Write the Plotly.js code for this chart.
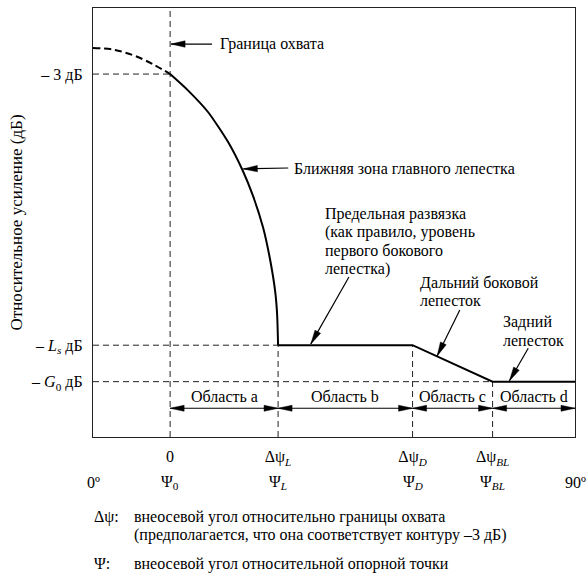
<!DOCTYPE html>
<html>
<head>
<meta charset="utf-8">
<script src="https://cdn.plot.ly/plotly-3.0.1.min.js"></script>
<style>html,body{margin:0;padding:0;background:#fff;}</style>
</head>
<body>
<div id="chart" style="width:588px;height:573px;"></div>
<script>
// ---- data (schematic units: x 0..100 across the 0º..90º frame, y 0..100 bottom..top) ----
const mainLobeX = [0, 4.15, 8.3, 12.45, 16, 19.7, 23.9, 28.0, 31.1, 33.2, 35.3, 36.7, 37.8, 38.2, 38.4];
const mainLobeY = [90.7, 90.3, 89.0, 86.9, 84.6, 80.8, 75.7, 68.8, 62.0, 56.2, 48.8, 41.6, 33.9, 28.6, 21.4];
const edgeIndex = 4; // point where coverage edge (0) is reached
const envelopeX = [38.4, 66.3, 82.9, 100];
const envelopeY = [21.4, 21.4, 12.9, 12.9];

const levelVals = [84.6, 21.4, 12.9];
const levelText = ['– 3 дБ', '– <i>L<sub>s</sub></i> дБ', '– <i>G</i><sub>0</sub> дБ'];
const levelEndX = [16, 38.4, 82.9];

const boundX = [16, 38.4, 66.3, 82.9];
const boundTopY = [100, 21.4, 21.4, 12.9];
const deltaText = ['0', 'Δψ<sub><i>L</i></sub>', 'Δψ<sub><i>D</i></sub>', 'Δψ<sub><i>BL</i></sub>'];
const psiX = [0, 16, 38.4, 66.3, 82.9, 100];
const psiText = ['0º', 'Ψ<sub>0</sub>', 'Ψ<sub><i>L</i></sub>', 'Ψ<sub><i>D</i></sub>', 'Ψ<sub><i>BL</i></sub>', '90º'];

const regionNames = ['Область a', 'Область b', 'Область c', 'Область d'];
const regionStart = [16, 38.4, 66.3, 82.9];
const regionEnd = [38.4, 66.3, 82.9, 100];
const regionArrowY = 6.7;
const regionLabelY = 9.4;

const calloutText = ['Граница охвата', 'Ближняя зона главного лепестка',
  'Предельная развязка<br>(как правило, уровень<br>первого бокового<br>лепестка)',
  'Дальний боковой<br>лепесток', 'Задний<br>лепесток'];
const calloutTextX = [25.9, 41.3, 47.8, 67.5, 84.6];
const calloutTopY = [91.5, 62.6, 52.0, 36.0, 26.9];
const calloutTailX = [24.7, 40.5, 53.1, 76.1, 90.3];
const calloutTailY = [91.6, 62.7, 37.3, 29.6, 20.7];
const calloutTipX = [16.2, 31.2, 45.2, 71.4, 86.4];
const calloutTipY = [91.6, 62.5, 21.7, 18.9, 13.1];

const noteLabels = ['Δψ:', '', 'Ψ:'];
const noteTexts = ['внеосевой угол относительно границы охвата',
  '(предполагается, что она соответствует контуру –3 дБ)',
  'внеосевой угол относительной опорной точки'];
const noteY = [-18.6, -22.8, -29.6];
const psiRowY = -10.7;

const yTitle = 'Относительное усиление (дБ)';

// ---- layout geometry ----
const W = 588, H = 573;
const M = {l: 93, r: 13, t: 8, b: 136};
const kx = (W - M.l - M.r) / 100, ky = (H - M.t - M.b) / 100;
const FONT = '"Liberation Serif", "Times New Roman", serif';
const FS = 16;
const LINE_STEP = 18.4 / ky;

const traces = [];
const guideDash = '6px,4px';
levelVals.forEach((v, i) => traces.push({x: [0, levelEndX[i]], y: [v, v], mode: 'lines',
  line: {color: '#222', width: 1, dash: guideDash}, hoverinfo: 'skip'}));
boundX.forEach((v, i) => traces.push({x: [v, v], y: [0, boundTopY[i]], mode: 'lines',
  line: {color: '#222', width: 1, dash: guideDash}, hoverinfo: 'skip'}));
traces.push({x: mainLobeX.slice(0, edgeIndex + 1), y: mainLobeY.slice(0, edgeIndex + 1), mode: 'lines',
  line: {color: '#000', width: 2, dash: '7px,4px', shape: 'spline'}, hoverinfo: 'skip'});
traces.push({x: mainLobeX.slice(edgeIndex), y: mainLobeY.slice(edgeIndex), mode: 'lines',
  line: {color: '#000', width: 2, shape: 'spline', smoothing: 0.6}, hoverinfo: 'skip'});
traces.push({x: envelopeX, y: envelopeY, mode: 'lines', line: {color: '#000', width: 2}, hoverinfo: 'skip'});

// ---- arrows (shafts + filled heads) ----
const shapes = [];
function head(tx, ty, fx, fy, len, half) {
  let dx = (tx - fx) * kx, dy = (ty - fy) * ky;
  const n = Math.hypot(dx, dy); dx /= n; dy /= n;
  const bx = tx * kx - dx * len, by = ty * ky - dy * len;
  const p1 = [(bx - dy * half) / kx, (by + dx * half) / ky];
  const p2 = [(bx + dy * half) / kx, (by - dx * half) / ky];
  shapes.push({type: 'path', xref: 'x', yref: 'y',
    path: `M${tx},${ty} L${p1[0]},${p1[1]} L${p2[0]},${p2[1]} Z`,
    fillcolor: '#000', line: {color: '#000', width: 0.5}});
}
function shaft(x0, y0, x1, y1) {
  shapes.push({type: 'line', xref: 'x', yref: 'y', x0, y0, x1, y1, line: {color: '#000', width: 1.2}});
}
calloutTipX.forEach((tx, i) => {
  shaft(calloutTailX[i], calloutTailY[i], tx, calloutTipY[i]);
  head(tx, calloutTipY[i], calloutTailX[i], calloutTailY[i], 14, 3.2);
});
regionStart.forEach((s, i) => {
  shaft(s, regionArrowY, regionEnd[i], regionArrowY);
  head(s, regionArrowY, regionEnd[i], regionArrowY, 14, 3);
  head(regionEnd[i], regionArrowY, s, regionArrowY, 14, 3);
});

// ---- annotations ----
const ann = [];
const tf = {family: FONT, size: FS, color: '#000'};
calloutText.forEach((t, i) => t.split('<br>').forEach((line, j) => ann.push({
  x: calloutTextX[i], y: calloutTopY[i] - j * LINE_STEP, xref: 'x', yref: 'y',
  text: line, showarrow: false, xanchor: 'left', yanchor: 'middle', align: 'left', font: tf})));
regionNames.forEach((t, i) => ann.push({x: (regionStart[i] + regionEnd[i]) / 2, y: regionLabelY,
  xref: 'x', yref: 'y', text: t, showarrow: false, xanchor: 'center', yanchor: 'middle', font: tf}));
// outside the frame: paper coordinates (frame spans 0..1 = axis range 0..100)
psiX.forEach((x, i) => ann.push({x: x / 100, y: psiRowY / 100, xref: 'paper', yref: 'paper', text: psiText[i],
  showarrow: false, xanchor: 'center', yanchor: 'middle', font: tf}));
noteTexts.forEach((t, i) => {
  if (noteLabels[i]) ann.push({x: -0.002, y: noteY[i] / 100, xref: 'paper', yref: 'paper', text: noteLabels[i],
    showarrow: false, xanchor: 'left', yanchor: 'middle', font: tf});
  ann.push({x: 0.081, y: noteY[i] / 100, xref: 'paper', yref: 'paper', text: t,
    showarrow: false, xanchor: 'left', yanchor: 'middle', font: tf});
});

const layout = {
  width: W, height: H, margin: M, showlegend: false,
  paper_bgcolor: '#fff', plot_bgcolor: '#fff',
  font: tf,
  xaxis: {range: [0, 100], showgrid: false, zeroline: false, showline: true, mirror: true,
    linecolor: '#222', linewidth: 1.2, tickvals: boundX, ticktext: deltaText,
    ticks: 'outside', ticklen: 5, tickcolor: 'rgba(0,0,0,0)', tickfont: tf, automargin: false},
  yaxis: {range: [0, 100], showgrid: false, zeroline: false, showline: true, mirror: true,
    linecolor: '#222', linewidth: 1.2, tickvals: levelVals, ticktext: levelText,
    ticks: 'outside', ticklen: 6, tickcolor: 'rgba(0,0,0,0)', tickfont: tf, automargin: false,
    title: {text: yTitle, font: {family: FONT, size: 17, color: '#000'}, standoff: 4}},
  shapes: shapes, annotations: ann
};
Plotly.newPlot('chart', traces, layout, {staticPlot: true, displayModeBar: false});
</script>
</body>
</html>
